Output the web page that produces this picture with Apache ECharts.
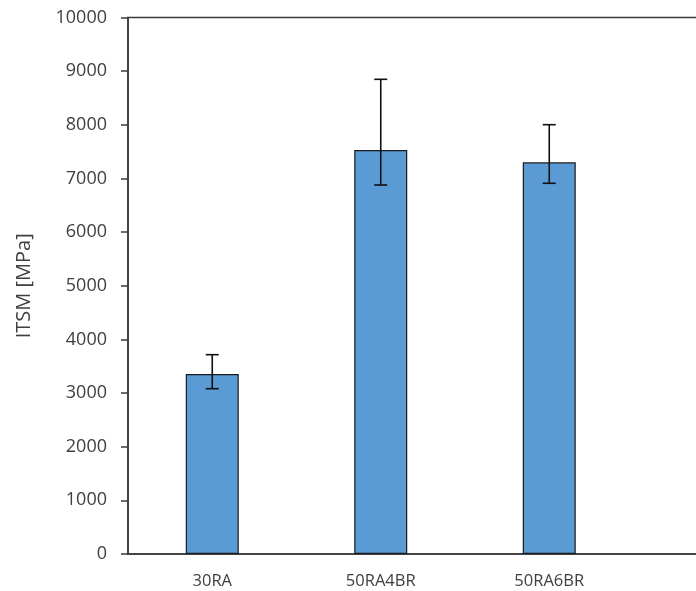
<!DOCTYPE html>
<html>
<head>
<meta charset="utf-8">
<script src="https://cdn.jsdelivr.net/npm/echarts@6/dist/echarts.min.js"></script>
<style>
  html, body { margin: 0; padding: 0; background: #fff; }
  #chart { width: 696px; height: 591px; }
</style>
</head>
<body>
<div id="chart"></div>
<script>
// Mix designs and their mean ITSM with the spread shown by the error bars
const categories = ['30RA', '50RA4BR', '50RA6BR'];
const itsm = [3355, 7530, 7301];
const errLow = [3081, 6878, 6910];
const errHigh = [3715, 8848, 8002];
const yTicks = { min: 0, max: 10000, interval: 1000 };

// The plot area continues past the right edge of the page, so one more
// (empty) band is kept on the category axis.
const axisCats = categories.concat(['']);

const textColor = '#404040';
const lineColor = '#3a3a3a';
const font = '"Open Sans", "DejaVu Sans", sans-serif';

const chart = echarts.init(document.getElementById('chart'));
chart.setOption({
  animation: false,
  grid: {
    left: 128, top: 17.5, width: 674, height: 536.5,
    outerBoundsMode: 'none',
    containLabel: false,
    show: true, borderColor: lineColor, borderWidth: 1.5, backgroundColor: 'transparent'
  },
  xAxis: {
    type: 'category',
    data: axisCats,
    axisLine: { lineStyle: { color: lineColor, width: 1.5 } },
    axisTick: { show: false },
    axisLabel: { color: textColor, fontSize: 16.5, fontFamily: font, margin: 19 },
    splitLine: { show: false }
  },
  yAxis: {
    type: 'value',
    min: yTicks.min, max: yTicks.max, interval: yTicks.interval,
    name: 'ITSM [MPa]',
    nameLocation: 'middle',
    nameGap: 94,
    nameTextStyle: { color: textColor, fontSize: 20, fontFamily: font },
    axisLine: { show: true, lineStyle: { color: lineColor, width: 1.5 } },
    axisTick: { show: true, inside: false, length: 7, lineStyle: { color: lineColor, width: 1.5 } },
    axisLabel: {
      color: textColor, fontSize: 18, fontFamily: font, margin: 21,
      formatter: function (v) { return String(v); }
    },
    splitLine: { show: false }
  },
  series: [
    {
      type: 'bar',
      data: itsm.concat([null]),
      barWidth: 53,
      itemStyle: { color: '#5B9BD5', borderColor: '#1a1a1a', borderWidth: 1.2 },
      z: 2
    },
    {
      type: 'custom',
      z: 3,
      data: errLow.map((lo, i) => [i, lo, errHigh[i]]),
      renderItem: function (params, api) {
        const lo = api.coord([api.value(0), api.value(1)]);
        const hi = api.coord([api.value(0), api.value(2)]);
        const half = 6.5;
        const style = { stroke: '#111', lineWidth: 1.6, fill: null };
        return {
          type: 'group',
          children: [
            { type: 'line', shape: { x1: hi[0], y1: hi[1], x2: lo[0], y2: lo[1] }, style: style },
            { type: 'line', shape: { x1: hi[0] - half, y1: hi[1], x2: hi[0] + half, y2: hi[1] }, style: style },
            { type: 'line', shape: { x1: lo[0] - half, y1: lo[1], x2: lo[0] + half, y2: lo[1] }, style: style }
          ]
        };
      }
    }
  ]
});
</script>
</body>
</html>
